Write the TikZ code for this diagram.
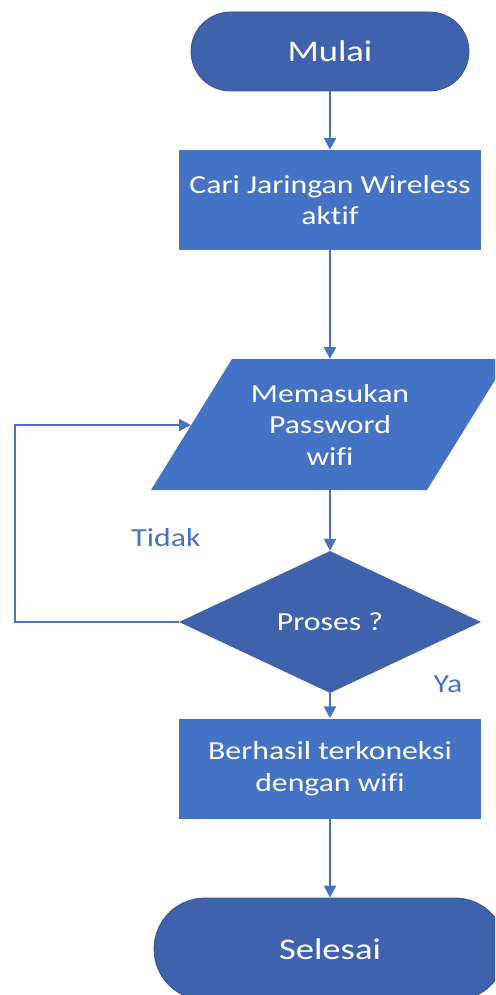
\documentclass[tikz,border=0pt]{standalone}
\usepackage{fontspec}
\setmainfont{Carlito}[FakeStretch=1.22,Ligatures=NoCommon]
\usetikzlibrary{arrows.meta,shapes.geometric}
\definecolor{boxblue}{RGB}{68,114,196}
\definecolor{darkblue}{RGB}{62,99,172}
\begin{document}
\begin{tikzpicture}[x=1pt,y=-1pt,
  terminal/.style={fill=darkblue, draw=darkblue!85!black, line width=0.8pt, text=white, font=\fontsize{30}{36}\selectfont, inner sep=0pt},
  procbox/.style={fill=boxblue, text=white, align=center, minimum width=302pt, minimum height=100pt, inner sep=0pt, font=\fontsize{26}{31.5}\selectfont},
  decision/.style={diamond, fill=darkblue, text=white, minimum width=302pt, minimum height=142pt, aspect=2.13, inner sep=0pt, font=\fontsize{26}{31.5}\selectfont},
  lbl/.style={text=boxblue, font=\fontsize{26}{31.5}\selectfont, inner sep=0pt},
  arr/.style={draw=boxblue, line width=2.4pt, -{Triangle[length=12pt,width=12pt]}},
  conn/.style={draw=boxblue, line width=2.4pt}]
\useasboundingbox (0,0) rectangle (495,995);
\clip (0,0) rectangle (495,995);

\node[terminal, minimum width=278pt, minimum height=79pt, rounded corners=39.5pt] (start) at (330,51.5) {Mulai};
\node[procbox] (p1) at (330,200) {Cari Jaringan Wireless\\aktif};

\fill[boxblue] (232,359) -- (508,359) -- (427,490) -- (151,490) -- cycle;
\node[text=white, align=center, inner sep=0pt, font=\fontsize{26}{31.5}\selectfont] (par) at (330,424.5) {Memasukan\\Password\\wifi};
\coordinate (partop) at (330,359);
\coordinate (parbot) at (330,490);
\coordinate (parleft) at (191,425);

\node[decision] (dec) at (330,622) {Proses ?};
\node[procbox] (p2) at (330,768.5) {Berhasil terkoneksi\\dengan wifi};
\node[terminal, minimum width=352pt, minimum height=102pt, rounded corners=51pt] (end) at (330,949) {Selesai};

\node[lbl] (tidak) at (166,538) {Tidak};
\node[lbl] (ya) at (448,684) {Ya};

\coordinate (loopc) at (15,622);

\draw[arr] (start) -- (p1);
\draw[arr] (p1) -- (partop);
\draw[arr] (parbot) -- (dec.north);
\draw[arr] (dec.south) -- (p2);
\draw[arr] (p2) -- (end);
\draw[arr] (dec.west) -- (loopc) |- (parleft);
\end{tikzpicture}
\end{document}
